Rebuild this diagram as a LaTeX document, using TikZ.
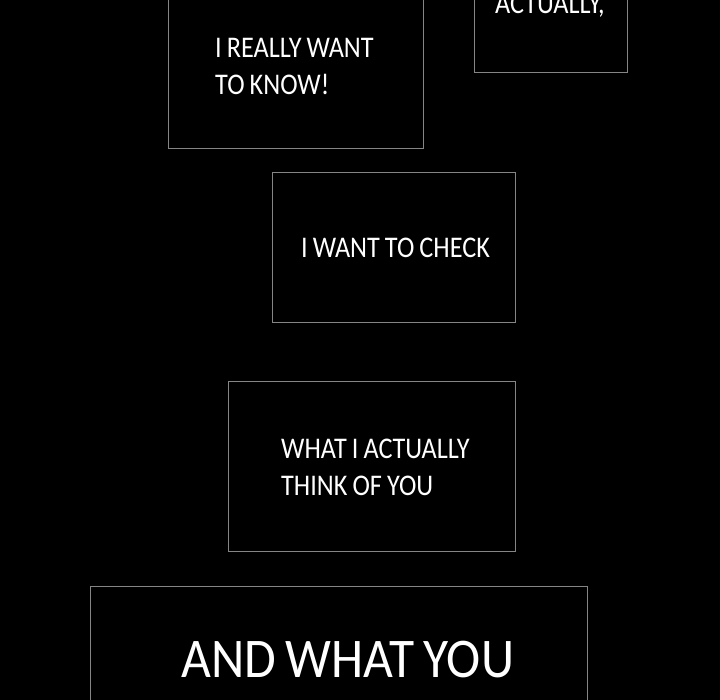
\documentclass[tikz,border=0pt]{standalone}
\usepackage{fontspec}
\setmainfont{Carlito}[FakeStretch=0.875,WordSpace=0.85]
\newfontfamily\bigcapfont{Carlito}[FakeStretch=0.92,WordSpace=0.8]
\begin{document}
\begin{tikzpicture}[x=1pt,y=-1pt,
  panel/.style={draw=boxgray, line width=1.1pt, rectangle, inner sep=0pt, anchor=north west},
  caption/.style={text=white, inner sep=0pt, anchor=base west, align=left, font=\fontsize{30}{37}\selectfont},
  bigcaption/.style={text=white, inner sep=0pt, anchor=base west, font=\bigcapfont\fontsize{56}{64}\selectfont}]
\definecolor{boxgray}{HTML}{858585}
\fill[black] (0,0) rectangle (720,700);
\useasboundingbox (0,0) rectangle (720,700);
\clip (0,0) rectangle (720,700);
\node[panel, minimum width=153pt, minimum height=152pt] (b1) at (474,-80) {};
\node[panel, minimum width=255pt, minimum height=248pt] (b2) at (168,-100) {};
\node[panel, minimum width=243pt, minimum height=150pt] (b3) at (272,172) {};
\node[panel, minimum width=287pt, minimum height=170pt] (b4) at (228,381) {};
\node[panel, minimum width=497pt, minimum height=200pt] (b5) at (90,586) {};
\node[caption] (t1) at (495,14) {ACTUALLY,};
\node[caption] (t2a) at (215,58) {I REALLY WANT};
\node[caption] (t2b) at (215,95) {TO KNOW!};
\node[caption] (t3) at (301,258) {I WANT TO CHECK};
\node[caption] (t4a) at (281,458) {WHAT I ACTUALLY};
\node[caption] (t4b) at (281,495) {THINK OF YOU};
\node[bigcaption] (t5) at (181,677) {AND WHAT YOU};
\end{tikzpicture}
\end{document}
